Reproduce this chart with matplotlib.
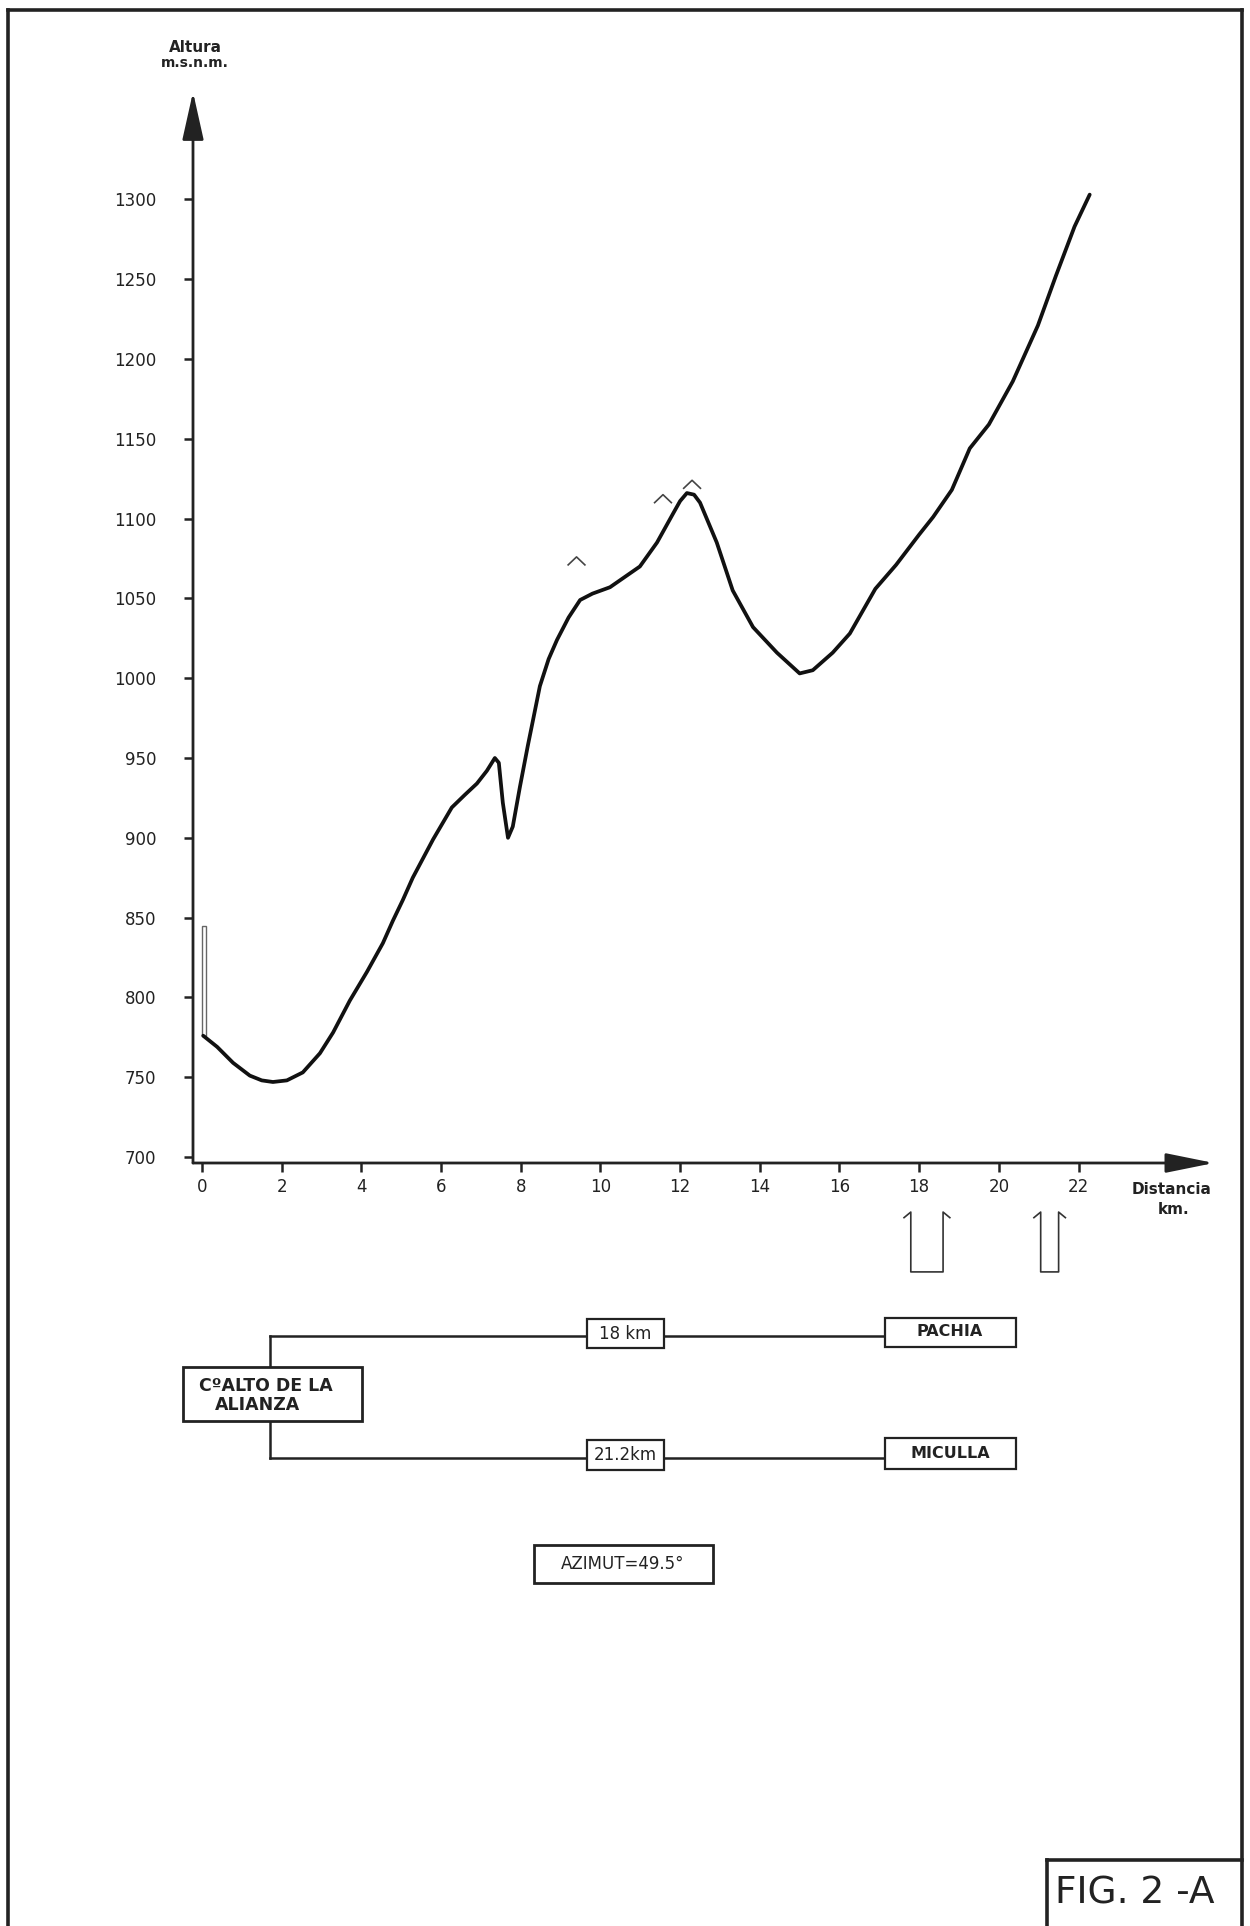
import matplotlib.pyplot as plt
from matplotlib.patches import Rectangle
import numpy as np

# perfil del terreno (km, m.s.n.m.)
dist_km = [0.03, 0.38, 0.78, 1.2, 1.5, 1.78, 2.13, 2.53, 2.96, 3.29, 3.71, 4.14, 4.54, 4.79,
           5.04, 5.29, 5.80, 6.27, 6.60, 6.90, 7.15, 7.35, 7.45, 7.55, 7.68, 7.80, 7.98, 8.18,
           8.31, 8.48, 8.70, 8.91, 9.20, 9.49, 9.80, 10.24, 10.99, 11.42, 11.82, 12.0, 12.17,
           12.35, 12.5, 12.92, 13.32, 13.83, 14.43, 15.0, 15.33, 15.83, 16.26, 16.9, 17.42,
           18.0, 18.35, 18.82, 19.27, 19.75, 20.35, 20.98, 21.43, 21.9, 22.28]
altura = [776, 769, 759, 751, 748, 747, 748, 753, 765, 778, 798, 816, 834, 848,
          861, 875, 899, 919, 927, 934, 942, 950, 947, 922, 900, 907, 932, 958,
          974, 995, 1012, 1024, 1038, 1049, 1053, 1057, 1070, 1085, 1103, 1111, 1116,
          1115, 1110, 1085, 1055, 1032, 1016, 1003, 1005, 1016, 1028, 1056, 1071,
          1090, 1101, 1118, 1144, 1159, 1186, 1221, 1252, 1283, 1303]

y_ticks = list(range(700, 1301, 50))
x_ticks = list(range(0, 23, 2))

torre_km = 0.0
torre_base, torre_tope = 776, 845

picos_km = [9.4, 11.57, 12.3]
picos_h = [1076, 1115, 1124]

# flechas bajo el eje (izq, der)
flechas = [(17.79, 18.6), (21.05, 21.5)]

W, H = 1250, 1926
ink = '#222222'

fig = plt.figure(figsize=(W / 100, H / 100), dpi=100)
fig.patch.set_facecolor('white')


def fx(x):
    return x / W


def fy(y):
    return 1 - y / H


# ejes principales
ax = fig.add_axes([fx(193), fy(1163), (1214 - 193) / W, (1163 - 92) / H])
ax.set_xlim(-0.226, 25.40)
ax.set_ylim(696.24, 1367.3)
for s in ax.spines.values():
    s.set_visible(False)
ax.patch.set_alpha(0)
ax.set_xticks(x_ticks)
ax.set_yticks(y_ticks)
ax.set_xticklabels([str(v) for v in x_ticks])
ax.set_yticklabels([str(v) for v in y_ticks])
ax.tick_params(axis='y', direction='out', length=6.5, width=1.8, color=ink,
               labelsize=12, pad=20, labelcolor=ink)
ax.tick_params(axis='x', direction='out', length=6.5, width=1.8, color=ink,
               labelsize=12, pad=4, labelcolor=ink)

# ejes con flecha
ax.annotate('', xy=(0, 1), xytext=(0, 0), xycoords='axes fraction',
            arrowprops=dict(arrowstyle='-|>,head_length=1.48,head_width=0.33',
                            mutation_scale=20, lw=2, color=ink, shrinkA=0, shrinkB=0))
ax.annotate('', xy=(1, 0), xytext=(0, 0), xycoords='axes fraction',
            arrowprops=dict(arrowstyle='-|>,head_length=1.48,head_width=0.3',
                            mutation_scale=20, lw=2, color=ink, shrinkA=0, shrinkB=0))

ax.plot(dist_km, altura, color='#111111', lw=2.7, solid_capstyle='round',
        solid_joinstyle='round', zorder=3)

ax.add_patch(Rectangle((torre_km, torre_base), 0.1, torre_tope - torre_base,
                       facecolor='white', edgecolor='#666666', lw=1.0, zorder=2))

for k, h in zip(picos_km, picos_h):
    ax.plot([k - 0.21, k, k + 0.21], [h - 5, h, h - 5], color='#444444', lw=1.2)

for xl, xr in flechas:
    ax.plot([xl - 0.17, xl, xl, xr, xr, xr + 0.17],
            [662.0, 665.5, 628, 628, 665.5, 662.0],
            color='#333333', lw=1.2, clip_on=False)

# capa de dibujo en pixeles
ov = fig.add_axes([0, 0, 1, 1])
ov.set_xlim(0, W)
ov.set_ylim(H, 0)
ov.axis('off')

# marco
ov.plot([8, 8], [10, 1926], color=ink, lw=2.6)
ov.plot([8, 1242], [10, 10], color=ink, lw=2.6)
ov.plot([1242, 1242], [10, 1926], color=ink, lw=2.6)
ov.plot([1047, 1242], [1860, 1860], color=ink, lw=2.6)
ov.plot([1047, 1047], [1860, 1926], color=ink, lw=2.6)
ov.text(1055, 1894, 'FIG. 2 -A', fontsize=27, color=ink, va='center', ha='left')

# rotulos de ejes
ov.text(195, 47, 'Altura', fontsize=11, fontweight='bold', color=ink, ha='center', va='center')
ov.text(195, 63, 'm.s.n.m.', fontsize=10, fontweight='bold', color=ink, ha='center', va='center')
ov.text(1172, 1190, 'Distancia', fontsize=11, fontweight='bold', color=ink, ha='center', va='center')
ov.text(1174, 1210, 'km.', fontsize=11, fontweight='bold', color=ink, ha='center', va='center')


def caja(x0, y0, x1, y1, lw=1.6):
    ov.add_patch(Rectangle((x0, y0), x1 - x0, y1 - y0, facecolor='white',
                           edgecolor=ink, lw=lw, zorder=3))


# esquema de enlaces
ov.plot([270, 270], [1336, 1458], color=ink, lw=1.8, zorder=2)
ov.plot([270, 885], [1336, 1336], color=ink, lw=1.8, zorder=2)
ov.plot([270, 885], [1458, 1458], color=ink, lw=1.8, zorder=2)

caja(183, 1367, 362, 1421, lw=2)
ov.text(199, 1386, 'CºALTO DE LA', fontsize=12.5, fontweight='bold', color=ink,
        ha='left', va='center', zorder=4)
ov.text(215, 1405, 'ALIANZA', fontsize=12.5, fontweight='bold', color=ink,
        ha='left', va='center', zorder=4)

caja(587, 1319, 664, 1348)
ov.text(625, 1334, '18 km', fontsize=12, color=ink, ha='center', va='center', zorder=4)
caja(587, 1440, 664, 1470)
ov.text(625, 1455, '21.2km', fontsize=12, color=ink, ha='center', va='center', zorder=4)

caja(885, 1318, 1016, 1347)
ov.text(950, 1332, 'PACHIA', fontsize=11.5, fontweight='bold', color=ink,
        ha='center', va='center', zorder=4)
caja(885, 1438, 1016, 1469)
ov.text(950, 1453, 'MICULLA', fontsize=11.5, fontweight='bold', color=ink,
        ha='center', va='center', zorder=4)

caja(534, 1545, 713, 1583, lw=2)
ov.text(623, 1564, 'AZIMUT=49.5°', fontsize=12, color=ink, ha='center', va='center', zorder=4)

plt.savefig('out.png', dpi=100, facecolor='white')
